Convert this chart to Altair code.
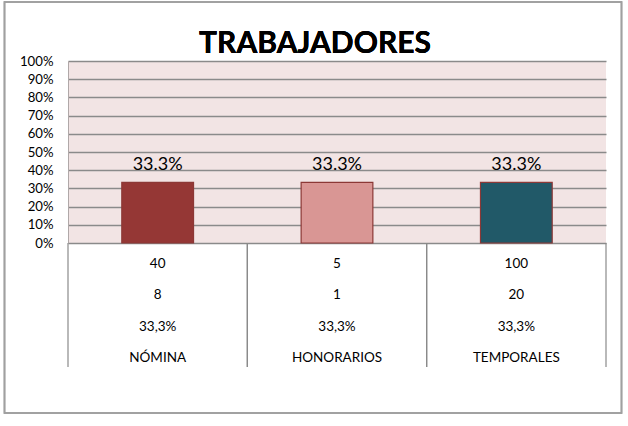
import altair as alt
import pandas as pd

categories = ["NÓMINA", "HONORARIOS", "TEMPORALES"]
shares = [0.333, 0.333, 0.333]
row_a = [40, 5, 100]
row_b = [8, 1, 20]
colors = ["#953735", "#D99694", "#215968"]

bars = pd.DataFrame({"cat": categories, "share": shares, "color": colors})
bars["label"] = [f"{v*100:.1f}%" for v in shares]

rows = []
for c, a, b, s in zip(categories, row_a, row_b, shares):
    rows.append({"cat": c, "row": 1, "txt": str(a)})
    rows.append({"cat": c, "row": 2, "txt": str(b)})
    rows.append({"cat": c, "row": 3, "txt": f"{s*100:.1f}%".replace(".", ",")})
    rows.append({"cat": c, "row": 4, "txt": c})
table = pd.DataFrame(rows)

FONT = "Lato"
W, H = 538, 182
TICKS = [0, 0.1, 0.2, 0.3, 0.4, 0.5, 0.6, 0.7, 0.8, 0.9, 1.0]

xscale = alt.Scale(domain=categories, paddingInner=0, paddingOuter=0)
Y = alt.Y("share:Q", scale=alt.Scale(domain=[0, 1]),
          axis=alt.Axis(values=TICKS, format=".0%", title=None,
                        grid=True, gridColor="#8A8A8A", gridWidth=1.3,
                        ticks=False, domain=True, domainColor="#B0A8A8", domainWidth=1,
                        labelFont=FONT, labelFontSize=13.2,
                        labelColor="#000000", labelPadding=15, labelOverlap=False))

base = alt.Chart(bars)

bar = base.mark_bar(width=alt.RelativeBandSize(0.4), stroke="#8C3836", strokeWidth=1.2).encode(
    x=alt.X("cat:N", scale=xscale, sort=categories, axis=None),
    y=Y,
    color=alt.Color("color:N", scale=None),
)

vals = base.mark_text(font=FONT, fontSize=18, dy=-12, baseline="alphabetic", color="#000000").encode(
    x=alt.X("cat:N", scale=xscale, sort=categories, axis=None),
    y=Y,
    text="label:N",
)

vl_left = base.mark_rule(color="#8A8A8A", strokeWidth=1.2).encode(
    x=alt.X("cat:N", scale=xscale, sort=categories, axis=None, bandPosition=0),
    y=alt.value(H), y2=alt.value(H + 124),
)
vl_right = base.mark_rule(color="#8A8A8A", strokeWidth=1.2).encode(
    x=alt.X("cat:N", scale=xscale, sort=categories, axis=None, bandPosition=1),
    y=alt.value(H), y2=alt.value(H + 124),
)

border = base.mark_rect(fill=None, stroke="#A0A0A0", strokeWidth=1.5).encode(
    x=alt.value(-63.5), x2=alt.value(553.5), y=alt.value(-59), y2=alt.value(352),
)

tbl = alt.Chart(table).mark_text(font=FONT, fontSize=13.5, baseline="middle", color="#000000").encode(
    x=alt.X("cat:N", scale=xscale, sort=categories, axis=None),
    y=alt.Y("row:O", scale=alt.Scale(type="point", range=[203, 297], padding=0), axis=None),
    text="txt:N",
)

title = base.mark_text(font=FONT, fontSize=30, fontWeight="bold", color="#000000",
                       align="center", baseline="alphabetic").encode(
    x=alt.value(247), y=alt.value(-8), text=alt.value("TRABAJADORES"),
)

main = alt.layer(bar, vals, vl_left, vl_right, border, title)

chart = alt.layer(main, tbl).resolve_scale(
    y="independent"
).properties(
    width=W, height=H,
    background="#FFFFFF",
    autosize=alt.AutoSizeParams(type="none"),
    padding={"left": 68, "top": 61, "right": 22, "bottom": 183},
).configure_view(fill="#F2E4E4", stroke=None)

chart.save("out.html", embed_options={"renderer": "svg", "actions": False})
